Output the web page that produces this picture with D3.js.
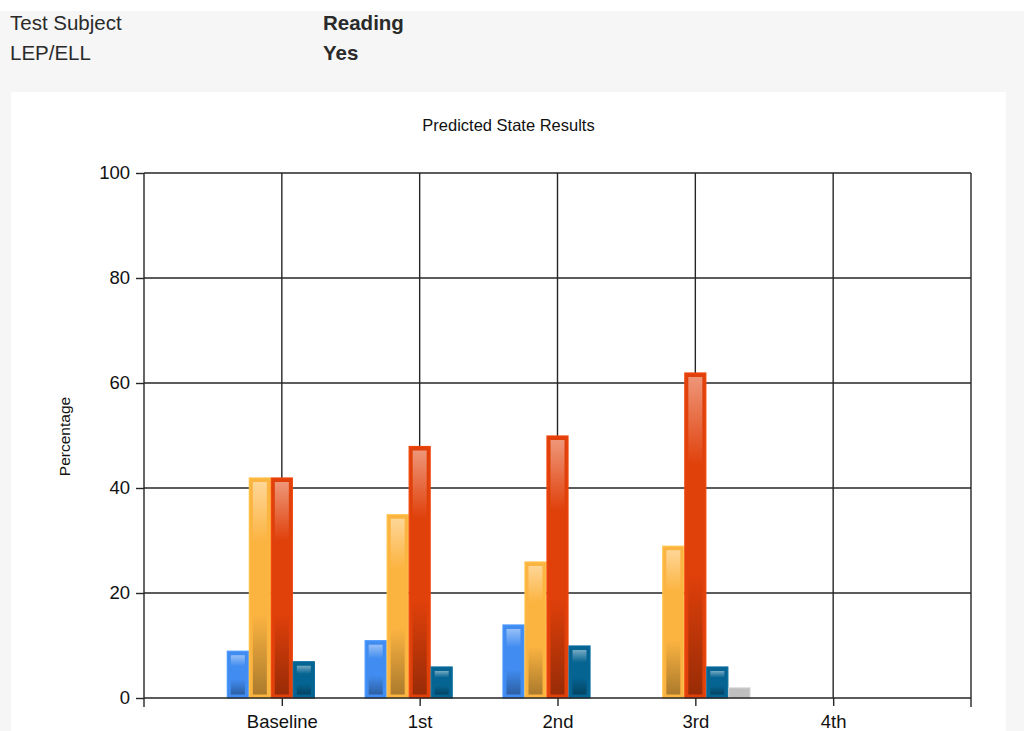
<!DOCTYPE html>
<html>
<head>
<meta charset="utf-8">
<script src="https://cdn.jsdelivr.net/npm/d3@7"></script>
<style>
  html, body { margin: 0; padding: 0; background: #ffffff; }
  svg { display: block; }
</style>
</head>
<body>
<svg id="chart" width="1024" height="731"></svg>
<script>
// Report header rows
const headerLabels = ["Test Subject", "LEP/ELL"];
const headerValues = ["Reading", "Yes"];

// Chart data
const categories = ["Baseline", "1st", "2nd", "3rd", "4th"];
const seriesNames = ["Series1", "Series2", "Series3", "Series4", "Series5"];
const series1 = [9, 11, 14, 0, 0];
const series2 = [42, 35, 26, 29, 0];
const series3 = [42, 48, 50, 62, 0];
const series4 = [7, 6, 10, 6, 0];
const series5 = [0, 0, 0, 2, 0];
const yTicks = [0, 20, 40, 60, 80, 100];
const palette = ["#418CF0", "#FCB441", "#E0400A", "#056492", "#BFBFBF"];

const allSeries = [series1, series2, series3, series4, series5];

const svg = d3.select("#chart");
const W = 1024, H = 731;

// Page background and white chart panel
svg.append("rect").attr("x", 0).attr("y", 0).attr("width", W).attr("height", H).attr("fill", "#ffffff");
svg.append("rect").attr("x", 0).attr("y", 11).attr("width", W).attr("height", H - 11).attr("fill", "#f6f6f6");
svg.append("rect").attr("x", 11).attr("y", 92).attr("width", 995).attr("height", H - 92).attr("fill", "#ffffff");

// Header rows
const header = svg.append("g")
  .style("font-family", "'Liberation Sans', Arial, sans-serif")
  .style("font-size", "20.5px")
  .attr("fill", "#2a2a2a");
headerLabels.forEach((t, i) => {
  header.append("text").attr("x", 10).attr("y", 30 + i * 29.5).text(t);
  header.append("text").attr("x", 323).attr("y", 30 + i * 29.5)
    .style("font-weight", "bold").text(headerValues[i]);
});

// Plot geometry
const plotLeft = 144, plotRight = 971, plotTop = 173, plotBottom = 698;

const x = d3.scalePoint().domain(categories).range([plotLeft, plotRight]).padding(1);
const y = d3.scaleLinear().domain([0, 100]).range([plotBottom, plotTop]);
const xSub = d3.scaleBand().domain(seriesNames).range([-55, 55]).padding(0);

const lineColor = "#262626";
const g = svg.append("g");

// Title
svg.append("text")
  .attr("x", 508.5).attr("y", 131)
  .attr("text-anchor", "middle")
  .style("font-family", "'Liberation Sans', Arial, sans-serif")
  .style("font-size", "16.5px")
  .attr("fill", "#111")
  .text("Predicted State Results");

// Y axis label
svg.append("text")
  .attr("transform", "translate(70,436.5) rotate(-90)")
  .attr("text-anchor", "middle")
  .style("font-family", "'Liberation Sans', Arial, sans-serif")
  .style("font-size", "15.5px")
  .attr("fill", "#111")
  .text("Percentage");

// Horizontal gridlines via the y axis
const yAxis = d3.axisLeft(y).tickValues(yTicks).tickSize(8).tickPadding(6);
const yg = g.append("g").attr("transform", `translate(${plotLeft},0)`).call(yAxis);
yg.select(".domain").remove();
yg.selectAll(".tick line").attr("stroke", lineColor).attr("stroke-width", 1.4);
yg.selectAll(".tick text")
  .style("font-family", "'Liberation Sans', Arial, sans-serif")
  .style("font-size", "18.5px")
  .attr("fill", "#111");
g.append("g").selectAll("line")
  .data(yTicks.filter(v => v > 0))
  .join("line")
  .attr("x1", plotLeft).attr("x2", plotRight)
  .attr("y1", d => y(d)).attr("y2", d => y(d))
  .attr("stroke", lineColor).attr("stroke-width", 1.4);

// Vertical gridlines through each category
g.append("g").selectAll("line")
  .data(categories)
  .join("line")
  .attr("x1", d => x(d)).attr("x2", d => x(d))
  .attr("y1", plotTop).attr("y2", plotBottom)
  .attr("stroke", lineColor).attr("stroke-width", 1.4);

// Frame
g.append("line").attr("x1", plotLeft).attr("x2", plotLeft).attr("y1", plotTop).attr("y2", plotBottom + 9)
  .attr("stroke", lineColor).attr("stroke-width", 1.4);
g.append("line").attr("x1", plotRight).attr("x2", plotRight).attr("y1", plotTop).attr("y2", plotBottom + 9)
  .attr("stroke", lineColor).attr("stroke-width", 1.4);

// Bar gradients: light sheen on top, darker toward the bottom
const defs = svg.append("defs");
const grad = defs.append("linearGradient").attr("id", "sheen")
  .attr("x1", 0).attr("y1", 0).attr("x2", 0).attr("y2", 1);
[[0, "#fff", 0.45], [0.28, "#fff", 0], [0.62, "#000", 0], [1, "#000", 0.32]].forEach(s => {
  grad.append("stop").attr("offset", s[0]).attr("stop-color", s[1]).attr("stop-opacity", s[2]);
});

// Bars
const barData = [];
categories.forEach((c, ci) => {
  seriesNames.forEach((s, si) => {
    const v = allSeries[si][ci];
    if (v > 0) barData.push({ cat: c, ser: s, value: v, color: palette[si] });
  });
});

const bars = g.append("g").selectAll("g")
  .data(barData)
  .join("g");

bars.append("rect")
  .attr("x", d => x(d.cat) + xSub(d.ser) + 0.5)
  .attr("y", d => y(d.value) + 0.5)
  .attr("width", xSub.bandwidth() - 1)
  .attr("height", d => y(0) - y(d.value) - 0.5)
  .attr("fill", d => d.color)
  .attr("stroke", d => d3.color(d.color).brighter(0.2))
  .attr("stroke-width", 1.2);

bars.filter(d => d.ser !== "Series5").append("rect")
  .attr("x", d => x(d.cat) + xSub(d.ser) + 4)
  .attr("y", d => y(d.value) + 4.5)
  .attr("width", xSub.bandwidth() - 8)
  .attr("height", d => Math.max(0, y(0) - y(d.value) - 8))
  .attr("fill", "url(#sheen)");

// X axis line, ticks and labels
g.append("line").attr("x1", plotLeft).attr("x2", plotRight).attr("y1", plotBottom).attr("y2", plotBottom)
  .attr("stroke", lineColor).attr("stroke-width", 1.4);
const xAxis = d3.axisBottom(x).tickSize(8).tickPadding(9);
const xg = g.append("g").attr("transform", `translate(0,${plotBottom})`).call(xAxis);
xg.select(".domain").remove();
xg.selectAll(".tick line").attr("stroke", lineColor).attr("stroke-width", 1.4);
xg.selectAll(".tick text")
  .style("font-family", "'Liberation Sans', Arial, sans-serif")
  .style("font-size", "18.5px")
  .attr("fill", "#111");
</script>
</body>
</html>
